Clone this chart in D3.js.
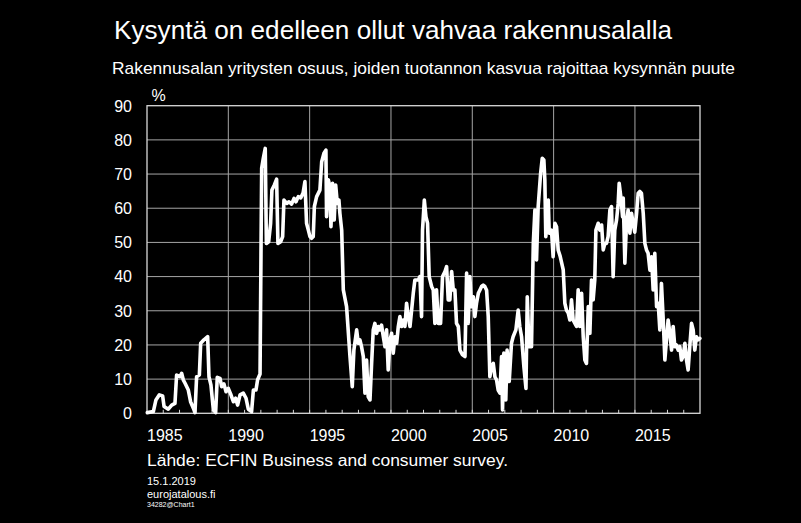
<!DOCTYPE html>
<html>
<head>
<meta charset="utf-8">
<script src="https://cdn.jsdelivr.net/npm/d3@7"></script>
<style>
  html, body { margin: 0; padding: 0; background: #000; }
  svg { display: block; }
  text { font-family: "Liberation Sans", Arial, sans-serif; fill: #fff; }
</style>
</head>
<body>
<svg id="chart" width="801" height="523"></svg>
<script>
// ---- data (decimal year, % of firms) ----
const dates = [
  1985.02,1985.39,1985.55,1985.76,1985.96,1986.05,1986.31,1986.52,1986.72,1986.82,
  1987.03,1987.13,1987.23,1987.34,1987.54,1987.68,1987.85,1987.95,1988.05,1988.22,
  1988.30,1988.50,1988.73,1988.81,1988.93,1989.08,1989.22,1989.32,1989.49,1989.59,
  1989.73,1989.86,1990.00,1990.14,1990.31,1990.45,1990.57,1990.72,1990.92,1991.09,
  1991.23,1991.43,1991.54,1991.70,1991.80,1991.95,1992.05,1992.15,1992.27,1992.34,
  1992.48,1992.60,1992.68,1992.83,1992.97,1993.05,1993.22,1993.34,1993.42,1993.59,
  1993.73,1993.89,1994.04,1994.16,1994.30,
  1994.45,1994.60,1994.71,1994.81,1994.92,1995.02,1995.12,1995.22,1995.29,1995.43,
  1995.63,1995.74,1995.88,1996.00,1996.04,1996.15,1996.25,1996.31,1996.41,1996.51,
  1996.60,1996.70,1996.80,1996.86,1996.97,1997.07,1997.27,1997.48,1997.62,1997.72,
  1997.89,1997.99,1998.09,1998.19,1998.30,1998.40,1998.50,1998.60,1998.71,1998.81,
  1998.91,1999.01,1999.12,1999.22,1999.32,1999.42,1999.53,1999.63,1999.73,1999.83,
  1999.94,2000.04,2000.14,2000.24,2000.35,2000.45,2000.55,2000.65,2000.76,2000.86,
  2000.96,2001.06,2001.17,2001.27,2001.37,2001.47,2001.58,2001.68,2001.78,2001.88,
  2001.94,2002.05,
  2002.15,2002.25,2002.35,2002.50,2002.60,2002.70,2002.80,2002.91,2003.05,2003.17,
  2003.32,2003.42,2003.52,2003.62,2003.73,2003.83,2003.93,2004.03,2004.14,2004.24,
  2004.40,2004.55,2004.65,2004.75,2004.85,2004.95,2005.06,2005.16,2005.26,2005.37,
  2005.47,2005.57,2005.67,2005.77,2005.88,2005.98,2006.08,2006.18,2006.29,2006.39,
  2006.49,2006.59,2006.70,2006.80,2006.86,2006.94,2007.06,2007.14,2007.27,2007.41,
  2007.51,2007.68,2007.82,2007.92,2008.03,2008.17,2008.30,2008.38,2008.48,2008.64,
  2008.75,2008.85,2008.95,2009.05,2009.20,2009.30,2009.40,2009.46,2009.52,2009.67,
  2009.73,2009.87,2009.97,2010.08,2010.18,2010.28,2010.40,
  2010.59,2010.69,2010.79,2010.90,2011.00,2011.10,2011.20,2011.31,2011.41,2011.51,
  2011.61,2011.72,2011.82,2011.92,2012.02,2012.13,2012.23,2012.33,2012.43,2012.53,
  2012.60,2012.74,2012.84,2012.95,2013.05,2013.15,2013.25,2013.35,2013.46,2013.56,
  2013.66,2013.76,2013.87,2013.97,2014.03,2014.13,2014.24,2014.28,2014.38,2014.48,
  2014.58,2014.69,2014.79,2014.89,2014.99,2015.10,2015.20,2015.30,2015.40,2015.51,
  2015.61,2015.71,2015.81,2015.92,2016.02,2016.12,2016.22,2016.33,2016.43,2016.53,
  2016.63,2016.74,2016.84,2016.94,2017.04,2017.15,2017.25,2017.35,2017.45,2017.55,
  2017.66,2017.76,2017.86,2017.96,2018.07,2018.17,2018.27,2018.37,2018.48,2018.58,
  2018.68,2018.78,2018.89,2018.99
];
const shares = [
  0.2,0.5,3.9,5.4,5.1,2.0,1.2,2.4,2.9,11.2,
  10.7,11.7,9.8,8.8,6.8,3.4,1.5,0.2,10.7,11.2,
  20.5,21.5,22.4,10.7,8.3,1.0,0.2,10.5,10.2,7.8,
  8.6,6.3,7.3,5.7,3.4,4.4,2.4,5.4,5.9,4.4,
  1.2,0.5,6.8,6.8,9.8,11.5,71.7,74.6,77.5,49.7,
  50.2,55.6,65.3,66.8,68.5,49.7,50.2,51.7,62.4,61.4,
  61.9,61.2,62.9,61.9,63.4,
  63.0,64.5,67.8,55.6,53.6,51.7,51.2,51.7,60.5,63.4,
  65.3,73.6,76.1,77.0,57.5,68.3,66.3,54.6,67.3,56.6,
  66.8,61.4,62.4,58.5,53.6,36.1,31.2,16.6,7.8,18.5,
  24.4,20.5,21.5,19.5,16.6,5.9,15.6,4.9,3.9,14.6,
  24.4,26.3,23.4,25.4,24.4,25.8,22.4,19.5,24.4,12.7,
  21.5,23.4,17.6,22.4,20.5,25.4,28.3,25.4,27.3,25.4,
  32.2,28.3,25.4,30.2,35.1,39.0,39.0,39.0,40.0,28.3,
  53.6,62.4,
  57.5,55.6,40.0,37.1,36.1,26.3,36.1,26.3,26.3,40.0,
  41.5,42.9,33.2,33.2,41.5,36.1,36.1,26.3,25.4,18.5,
  17.1,16.6,41.0,26.3,40.0,31.2,34.1,28.3,32.2,35.1,
  36.1,37.1,37.5,37.1,36.0,28.3,10.7,13.7,14.6,10.7,
  9.8,6.8,5.9,16.6,1.0,17.6,3.9,18.5,9.3,20.5,
  22.4,24.4,30.2,25.4,22.4,13.7,7.3,34.1,19.5,19.5,
  49.7,59.5,44.9,60.5,70.2,74.6,74.1,68.3,51.7,62.4,
  52.7,53.6,45.8,55.6,54.6,47.8,46.0,
  42.0,32.2,30.2,29.3,27.3,33.2,27.3,26.3,25.4,36.1,
  25.4,35.1,22.4,15.6,14.6,31.2,23.4,39.0,33.2,39.0,
  53.6,55.6,53.6,55.1,47.8,49.7,49.7,51.7,59.5,60.5,
  40.0,53.6,56.6,61.4,67.3,63.4,57.5,63.0,43.9,55.6,
  59.5,52.7,58.5,55.6,53.0,58.5,64.4,64.9,64.4,58.5,
  49.7,47.8,46.8,41.9,45.8,36.1,46.8,31.2,32.2,24.4,
  38.0,27.3,15.6,21.5,27.3,23.4,18.5,25.4,19.5,20.0,
  18.5,19.5,15.6,16.6,20.5,15.6,12.7,19.5,26.3,24.4,
  18.5,22.4,21.5,21.9
];
const xLabelYears = [1985, 1990, 1995, 2000, 2005, 2010, 2015];
const xGridYears = [1990, 1995, 2000, 2005, 2010, 2015];
const minorYears = d3.range(1986, 2019);
const yTicks = [0, 10, 20, 30, 40, 50, 60, 70, 80, 90];

const titleText = "Kysyntä on edelleen ollut vahvaa rakennusalalla";
const subtitleText = "Rakennusalan yritysten osuus, joiden tuotannon kasvua rajoittaa kysynnän puute";
const unitText = "%";
const sourceText = "Lähde: ECFIN Business and consumer survey.";
const dateText = "15.1.2019";
const siteText = "eurojatalous.fi";
const codeText = "34282@Chart1";

// ---- layout ----
const L = 147, R = 700, T = 105.7, B = 413.3;
const svg = d3.select("#chart");
svg.append("rect").attr("width", 801).attr("height", 523).attr("fill", "#000");

const x = d3.scaleLinear().domain([1985, 2019]).range([L, R]);
const y = d3.scaleLinear().domain([0, 90]).range([B, T]);

// title & subtitle
svg.append("text").attr("x", 114).attr("y", 38.5)
  .attr("font-size", 26).attr("textLength", 558).attr("lengthAdjust", "spacingAndGlyphs")
  .text(titleText);
svg.append("text").attr("x", 112).attr("y", 74)
  .attr("font-size", 15.7).attr("textLength", 623).attr("lengthAdjust", "spacingAndGlyphs")
  .text(subtitleText);

// gridlines
const g = svg.append("g");
g.selectAll("line.hgrid").data(yTicks.filter(d => d > 0 && d < 90)).join("line")
  .attr("class", "hgrid")
  .attr("x1", L).attr("x2", R).attr("y1", d => y(d)).attr("y2", d => y(d))
  .attr("stroke", "#a6a6a6").attr("stroke-width", 1);
g.selectAll("line.vgrid").data(xGridYears).join("line")
  .attr("class", "vgrid")
  .attr("x1", d => x(d)).attr("x2", d => x(d)).attr("y1", T).attr("y2", B)
  .attr("stroke", "#a6a6a6").attr("stroke-width", 1);

// frame
g.append("rect").attr("x", L).attr("y", T).attr("width", R - L).attr("height", B - T)
  .attr("fill", "none").attr("stroke", "#d9d9d9").attr("stroke-width", 1.3);

// minor year ticks on bottom axis (pointing up)
g.selectAll("line.minor").data(minorYears).join("line")
  .attr("class", "minor")
  .attr("x1", d => x(d)).attr("x2", d => x(d)).attr("y1", B).attr("y2", B - 3.5)
  .attr("stroke", "#d9d9d9").attr("stroke-width", 1);

// y labels
svg.selectAll("text.ylab").data(yTicks).join("text")
  .attr("class", "ylab")
  .attr("x", 132).attr("y", d => y(d) + 5.8)
  .attr("text-anchor", "end").attr("font-size", 16)
  .text(d => d);
svg.append("text").attr("x", 151.5).attr("y", 101).attr("font-size", 16).text(unitText);

// x labels (left-aligned at the year gridline)
svg.selectAll("text.xlab").data(xLabelYears).join("text")
  .attr("class", "xlab")
  .attr("x", d => x(d)).attr("y", 441)
  .attr("font-size", 16)
  .text(d => d);

// series line
const data = dates.map((d, i) => ({ t: d, v: shares[i] }));
const line = d3.line().x(d => x(d.t)).y(d => y(d.v));
svg.append("path").datum(data)
  .attr("d", line)
  .attr("fill", "none").attr("stroke", "#fff")
  .attr("stroke-width", 3.6).attr("stroke-linejoin", "round").attr("stroke-linecap", "round");

// footer
svg.append("text").attr("x", 147).attr("y", 466).attr("font-size", 16)
  .attr("textLength", 361).attr("lengthAdjust", "spacingAndGlyphs").text(sourceText);
svg.append("text").attr("x", 147).attr("y", 485).attr("font-size", 11).text(dateText);
svg.append("text").attr("x", 147).attr("y", 497.5).attr("font-size", 11).text(siteText);
svg.append("text").attr("x", 147).attr("y", 507).attr("font-size", 7).text(codeText);
</script>
</body>
</html>
